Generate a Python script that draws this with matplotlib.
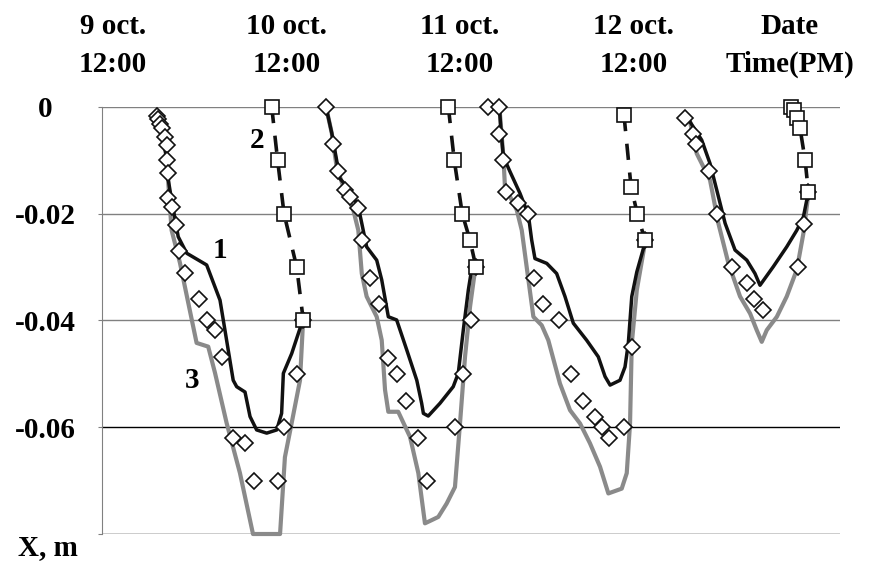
import numpy as np
import matplotlib
matplotlib.use("Agg")
from matplotlib import pyplot as plt

nan = np.nan

# time in days since 9 oct. 12:00, displacement X in m (segments split by nan)
calc1_days = [0.252, 0.290, 0.312, 0.319, 0.338, 0.376, 0.425, 0.540, 0.617, 0.655, 0.693, 0.713,
              0.761, 0.790, 0.828, 0.886, 0.944, 0.972, 0.982, 1.030, 1.088, nan,
              1.228, 1.261, 1.308, 1.366, 1.414, 1.434, 1.462, 1.520, 1.549, 1.587, 1.635, 1.693,
              1.751, 1.779, 1.789, 1.817, 1.885, 1.961, 1.990, 2.019, 2.048, 2.068, nan,
              2.227, 2.236, 2.250, 2.288, 2.346, 2.394, 2.413, 2.432, 2.500, 2.557, 2.605, 2.653,
              2.730, 2.797, 2.836, 2.865, 2.922, 2.951, 2.970, 2.990, 3.019, 3.066, nan,
              3.326, 3.393, 3.441, 3.480, 3.528, 3.585, 3.653, 3.700, 3.729, 3.806, 3.883, 3.941,
              3.979, 4.008]
calc1_x = [-0.002, -0.006, -0.010, -0.0137, -0.0174, -0.0243, -0.0274, -0.0296, -0.0362, -0.0437,
           -0.0512, -0.0524, -0.0534, -0.0580, -0.0605, -0.0611, -0.0605, -0.0574, -0.0499, -0.0462,
           -0.0405, nan,
           0.0, -0.0049, -0.0134, -0.0156, -0.0187, -0.0218, -0.0262, -0.0287, -0.0324, -0.0393,
           -0.0399, -0.0455, -0.0512, -0.0555, -0.0574, -0.0579, -0.0555, -0.0524, -0.0499, -0.0418,
           -0.0343, -0.0302, nan,
           0.0, -0.0043, -0.0093, -0.0121, -0.0162, -0.0202, -0.0249, -0.0284, -0.0293, -0.0312,
           -0.0355, -0.0405, -0.0437, -0.0468, -0.0505, -0.0521, -0.0512, -0.0487, -0.0443, -0.0355,
           -0.0309, -0.0255, nan,
           -0.0028, -0.0062, -0.0106, -0.0156, -0.0218, -0.0268, -0.0287, -0.0312, -0.0334, -0.0299,
           -0.0262, -0.0231, -0.0206, -0.0159]

calc3_days = [0.252, 0.290, 0.312, 0.319, 0.338, 0.386, 0.482, 0.549, 0.588, 0.655, 0.732, 0.807,
              0.963, 0.991, 1.030, 1.078, 1.095, nan,
              1.228, 1.261, 1.289, 1.327, 1.385, 1.414, 1.434, 1.462, 1.520, 1.549, 1.568, 1.587,
              1.644, 1.712, 1.760, 1.798, 1.837, 1.875, 1.923, 1.971, 2.000, 2.029, 2.058, 2.087, nan,
              2.227, 2.250, 2.259, 2.327, 2.356, 2.384, 2.423, 2.471, 2.509, 2.576, 2.634, 2.692,
              2.749, 2.807, 2.855, 2.932, 2.961, 2.980, 2.990, 3.019, 3.066, nan,
              3.326, 3.364, 3.441, 3.489, 3.547, 3.614, 3.672, 3.710, 3.739, 3.768, 3.826, 3.883,
              3.941, 3.979, 4.008]
calc3_x = [-0.002, -0.006, -0.010, -0.0143, -0.0231, -0.0292, -0.0442, -0.0449, -0.0498, -0.0592,
           -0.0686, -0.0800, -0.0800, -0.0656, -0.0592, -0.0512, -0.0405, nan,
           0.0, -0.0049, -0.0112, -0.0149, -0.0193, -0.0231, -0.0312, -0.0355, -0.0393, -0.0437,
           -0.0530, -0.0571, -0.0571, -0.0618, -0.0686, -0.0780, -0.0774, -0.0768, -0.0743, -0.0712,
           -0.0593, -0.0468, -0.0374, -0.0305, nan,
           0.0, -0.0093, -0.0149, -0.0193, -0.0231, -0.0299, -0.0393, -0.0409, -0.0437, -0.0518,
           -0.0568, -0.0593, -0.0630, -0.0674, -0.0724, -0.0715, -0.0686, -0.0593, -0.0443, -0.0343,
           -0.0255, nan,
           -0.0028, -0.0087, -0.0137, -0.0218, -0.0293, -0.0355, -0.0387, -0.0418, -0.0440, -0.0418,
           -0.0393, -0.0355, -0.0305, -0.0237, -0.0162]

calc2_days = [0.915, 0.949, 0.986, 1.059, 1.097, nan,
              1.933, 1.967, 2.013, 2.058, 2.092, nan,
              2.945, 2.986, 3.022, 3.066, nan,
              3.908, 3.925, 3.941, 3.960, 3.989, 4.008]
calc2_x = [0.0, -0.010, -0.020, -0.030, -0.040, nan,
           0.0, -0.010, -0.020, -0.025, -0.030, nan,
           -0.0015, -0.015, -0.020, -0.025, nan,
           0.0, -0.0005, -0.002, -0.004, -0.010, -0.016]

meas_days = [0.252, 0.261, 0.271, 0.281, 0.300, 0.310, 0.310, 0.319, 0.319, 0.338, 0.363, 0.380,
             0.415, 0.496, 0.540, 0.588, 0.627, 0.693, 0.761, 0.813, 0.953, 0.987, 1.059, 1.097,
             1.228, 1.270, 1.295, 1.337, 1.366, 1.410, 1.434, 1.481, 1.533, 1.583, 1.639, 1.689,
             1.760, 1.808, 1.971, 2.016, 2.062, 2.092,
             2.163, 2.227, 2.227, 2.246, 2.265, 2.336, 2.394, 2.427, 2.480, 2.571, 2.638, 2.707,
             2.778, 2.817, 2.861, 2.945, 2.990, 3.066,
             3.297, 3.341, 3.360, 3.437, 3.480, 3.566, 3.656, 3.695, 3.745, 3.947, 3.983, 4.008]
meas_x = [-0.0017, -0.0023, -0.0031, -0.004, -0.0056, -0.0071, -0.0099, -0.0124, -0.0171, -0.0188,
          -0.0221, -0.0269, -0.0311, -0.036, -0.040, -0.0418, -0.0468, -0.062, -0.063, -0.070,
          -0.070, -0.060, -0.050, -0.040,
          0.0, -0.007, -0.012, -0.0156, -0.0168, -0.019, -0.025, -0.032, -0.037, -0.047, -0.050,
          -0.055, -0.062, -0.070, -0.060, -0.050, -0.040, -0.030,
          0.0, 0.0, -0.005, -0.010, -0.016, -0.018, -0.020, -0.032, -0.037, -0.040, -0.050, -0.055,
          -0.058, -0.060, -0.062, -0.060, -0.045, -0.025,
          -0.002, -0.005, -0.007, -0.012, -0.020, -0.030, -0.033, -0.036, -0.038, -0.030, -0.022,
          -0.016]

tick_days = [0, 1, 2, 3, 3.9]
tick_labels = ["9 oct.\n12:00", "10 oct.\n12:00", "11 oct.\n12:00", "12 oct.\n12:00", "Date\nTime(PM)"]
y_ticks = [0, -0.02, -0.04, -0.06, -0.08]
y_labels = ["0", "-0.02", "-0.04", "-0.06", ""]

plt.rcParams['font.family'] = ['Liberation Serif', 'DejaVu Serif']
plt.rcParams['font.weight'] = 'bold'
fs = 21

fig = plt.figure(figsize=(8.75, 5.63), dpi=100)
ax = fig.add_axes([0.1166, 0.0515, 0.9600 - 0.1166, 0.810 - 0.0515])

grid_colors = ['#808080', '#808080', '#808080', '#000000', '#000000']
for yv, c in zip(y_ticks, grid_colors):
    ax.axhline(yv, color=c, lw=1.0, zorder=1)

ax.plot(calc3_days, calc3_x, color='#8a8a8a', lw=3.0, zorder=2, clip_on=False)
ax.plot(calc1_days, calc1_x, color='#111111', lw=2.5, zorder=3)
ax.plot(calc2_days, calc2_x, color='#111111', lw=2.6, ls=(0, (4.5, 3.5)), zorder=4, clip_on=False)
ax.plot(meas_days, meas_x, ls='none', marker='D', ms=7.8, mfc='white', mec='#111111', mew=1.2,
        zorder=5, clip_on=False)
ax.plot(calc2_days, calc2_x, ls='none', marker='s', ms=10, mfc='white', mec='#111111', mew=1.2,
        zorder=6, clip_on=False)

ax.text(0.617, -0.0268, "1", fontsize=fs, ha='center', va='center')
ax.text(0.828, -0.0062, "2", fontsize=fs, ha='center', va='center')
ax.text(0.454, -0.0512, "3", fontsize=fs, ha='center', va='center')

ax.set_xlim(-0.063, 4.19)
ax.set_ylim(-0.08, 0)
ax.xaxis.tick_top()
ax.set_xticks(tick_days)
ax.set_xticklabels(tick_labels, fontsize=fs, linespacing=1.5)
ax.tick_params(axis='x', length=0, pad=21)
ax.set_yticks(y_ticks)
ax.set_yticklabels(y_labels, fontsize=fs)
ax.tick_params(axis='y', length=3, color='#808080', pad=38)
for lab in ax.get_yticklabels():
    lab.set_horizontalalignment('center')

for s in ['top', 'right', 'bottom']:
    ax.spines[s].set_visible(False)
ax.spines['left'].set_color('#808080')

fig.text(48 / 875, 1 - 548 / 563, "X, m", fontsize=fs, ha='center', va='center')

fig.savefig('out.png', dpi=100)
